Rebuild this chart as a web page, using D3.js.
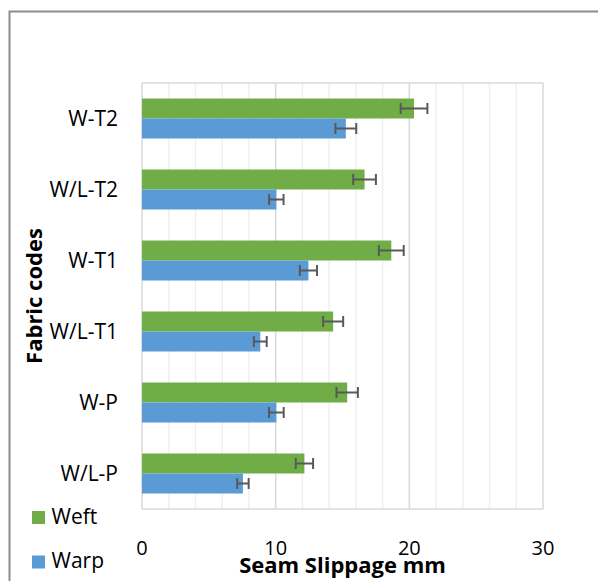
<!DOCTYPE html>
<html>
<head>
<meta charset="utf-8">
<script src="https://cdn.jsdelivr.net/npm/d3@7"></script>
<style>
  body { margin: 0; background: #fff; }
  text { font-family: "Open Sans", "Noto Sans", sans-serif; fill: #000; }
</style>
</head>
<body>
<div id="chart"></div>
<script>
// fabric codes, top to bottom as drawn
let categories = ['W-T2', 'W/L-T2', 'W-T1', 'W/L-T1', 'W-P', 'W/L-P'];
let series = ['Weft', 'Warp'];
let weftValues = [20.35, 16.65, 18.65, 14.3, 15.35, 12.15];
let weftErrors = [1.0, 0.85, 0.93, 0.75, 0.8, 0.65];
let warpValues = [15.25, 10.05, 12.45, 8.85, 10.05, 7.55];
let warpErrors = [0.78, 0.54, 0.64, 0.48, 0.55, 0.43];
let xTicks = [0, 10, 20, 30];
let xMinorTicks = [2, 4, 6, 8, 12, 14, 16, 18, 22, 24, 26, 28];

let colors = {'Weft': '#70ad47', 'Warp': '#5b9bd5'};

let width = 598, height = 581;
let plot = {left: 142, right: 543, top: 83, bottom: 509};

let svg = d3.select('#chart').append('svg')
    .attr('width', width)
    .attr('height', height);

// outer frame (only left and top visible in the picture)
svg.append('rect')
    .attr('x', 9.5).attr('y', 11.5)
    .attr('width', 800).attr('height', 800)
    .attr('fill', 'none')
    .attr('stroke', '#8c8c8c')
    .attr('stroke-width', 2);

let x = d3.scaleLinear().domain([0, 30]).range([plot.left, plot.right]);
let y = d3.scaleBand().domain(categories).range([plot.top, plot.bottom]);
let inner = d3.scaleBand().domain(series).range([0, y.bandwidth()]).paddingOuter(0.775);

// grid
let grid = svg.append('g').attr('class', 'grid');
grid.selectAll('line.minor').data(xMinorTicks).enter().append('line')
    .attr('class', 'minor')
    .attr('x1', d => x(d)).attr('x2', d => x(d))
    .attr('y1', plot.top).attr('y2', plot.bottom)
    .attr('stroke', '#efefef').attr('stroke-width', 1.5);
grid.selectAll('line.major').data(xTicks).enter().append('line')
    .attr('class', 'major')
    .attr('x1', d => x(d)).attr('x2', d => x(d))
    .attr('y1', plot.top).attr('y2', plot.bottom)
    .attr('stroke', '#d9d9d9').attr('stroke-width', 1.5);
grid.append('line')
    .attr('x1', plot.left).attr('x2', plot.right)
    .attr('y1', plot.top).attr('y2', plot.top)
    .attr('stroke', '#d9d9d9').attr('stroke-width', 1.5);
grid.append('line')
    .attr('x1', plot.left).attr('x2', plot.right)
    .attr('y1', plot.bottom).attr('y2', plot.bottom)
    .attr('stroke', '#d9d9d9').attr('stroke-width', 1.5);

// rows for bars
let rows = [];
categories.forEach((c, i) => {
    rows.push({cat: c, s: 'Weft', v: weftValues[i], e: weftErrors[i]});
    rows.push({cat: c, s: 'Warp', v: warpValues[i], e: warpErrors[i]});
});

svg.append('g').attr('class', 'bars').selectAll('rect').data(rows).enter().append('rect')
    .attr('x', x(0))
    .attr('y', d => y(d.cat) + inner(d.s))
    .attr('width', d => x(d.v) - x(0))
    .attr('height', inner.bandwidth())
    .attr('fill', d => colors[d.s]);

// error bars
let err = svg.append('g').attr('class', 'errors')
    .attr('stroke', '#595959').attr('stroke-width', 2);
let eg = err.selectAll('g').data(rows).enter().append('g')
    .attr('transform', d => 'translate(0,' + (y(d.cat) + inner(d.s) + inner.bandwidth() / 2) + ')');
eg.append('line')
    .attr('x1', d => x(d.v - d.e)).attr('x2', d => x(d.v + d.e))
    .attr('y1', 0).attr('y2', 0);
eg.append('line')
    .attr('x1', d => x(d.v - d.e)).attr('x2', d => x(d.v - d.e))
    .attr('y1', -5.5).attr('y2', 5.5);
eg.append('line')
    .attr('x1', d => x(d.v + d.e)).attr('x2', d => x(d.v + d.e))
    .attr('y1', -5.5).attr('y2', 5.5);

// category labels
svg.append('g').attr('class', 'yLabels').selectAll('text').data(categories).enter().append('text')
    .attr('x', 118)
    .attr('y', d => y(d) + y.bandwidth() / 2 + 7.5)
    .attr('text-anchor', 'end')
    .style('font-size', '21px')
    .text(d => d);

// x tick labels
svg.append('g').attr('class', 'xLabels').selectAll('text').data(xTicks).enter().append('text')
    .attr('x', d => x(d))
    .attr('y', 555)
    .attr('text-anchor', 'middle')
    .style('font-size', '20px')
    .text(d => d);

// axis titles
svg.append('text')
    .attr('x', (plot.left + plot.right) / 2).attr('y', 573)
    .attr('text-anchor', 'middle')
    .style('font-size', '22px').style('font-weight', 'bold')
    .text('Seam Slippage mm');

svg.append('text')
    .attr('transform', 'translate(42,' + ((plot.top + plot.bottom) / 2) + ') rotate(-90)')
    .attr('text-anchor', 'middle')
    .style('font-size', '22px').style('font-weight', 'bold')
    .text('Fabric codes');

// legend
let legend = svg.append('g').attr('class', 'legend').selectAll('g').data(series).enter().append('g')
    .attr('transform', (d, i) => 'translate(32,' + (511 + i * 44.5) + ')');
legend.append('rect')
    .attr('width', 13).attr('height', 13)
    .attr('fill', d => colors[d]);
legend.append('text')
    .attr('x', 19.5).attr('y', 12.5)
    .style('font-size', '21px')
    .text(d => d);
</script>
</body>
</html>
